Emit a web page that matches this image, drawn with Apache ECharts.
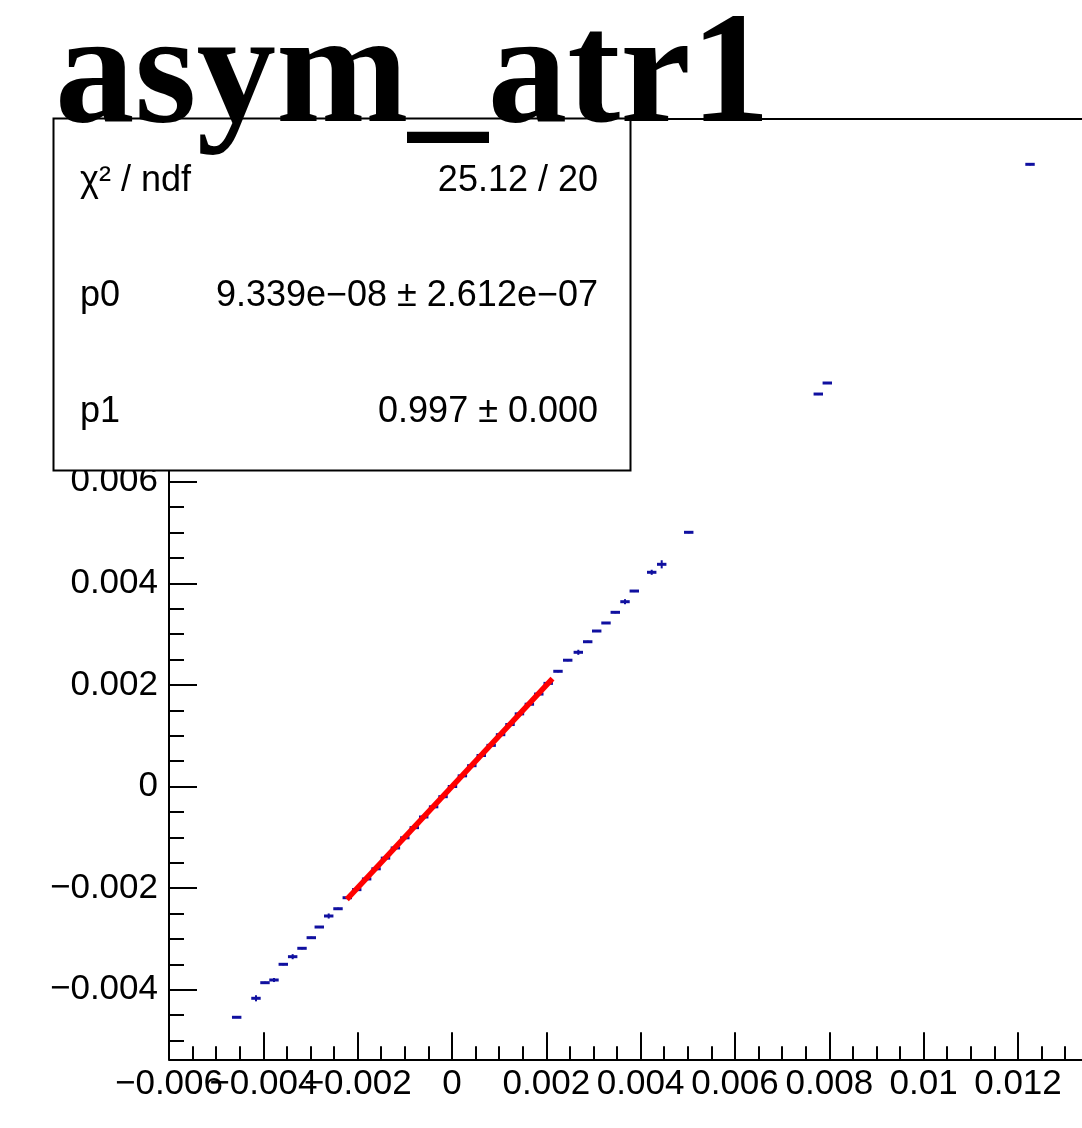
<!DOCTYPE html>
<html>
<head>
<meta charset="utf-8">
<script src="https://cdn.jsdelivr.net/npm/echarts@6/dist/echarts.min.js"></script>
<style>
html,body{margin:0;padding:0;background:#fff;}
#chart{width:1082px;height:1128px;}
</style>
</head>
<body>
<div id="chart"></div>
<script>
// ---- data ----
const titleText = 'asym_atr1';

// profile points: bin centre x, mean y, error on y
const binX = [
  -0.004565, -0.004156, -0.003965, -0.003774, -0.003577, -0.003378, -0.003180, -0.002983, -0.002814, -0.002614, -0.002417, -0.002220,
  -0.00202, -0.00181, -0.00161, -0.00141, -0.00120, -0.00100, -0.00080, -0.00060, -0.00039, -0.00019, 0.00001,
  0.00022, 0.00042, 0.00062, 0.00083, 0.00103, 0.00123, 0.00143, 0.00164, 0.00184, 0.00204,
  0.002247, 0.002453, 0.002678, 0.002877, 0.003068, 0.003265, 0.003462, 0.003668, 0.003865, 0.004234, 0.004446,
  0.005019, 0.007766, 0.007957, 0.012255
];
const profY = [
  -0.004543, -0.004169, -0.003862, -0.003809, -0.003500, -0.003350, -0.003185, -0.002976, -0.002766, -0.002549, -0.002406, -0.002189,
  -0.00203, -0.00182, -0.00162, -0.00141, -0.00121, -0.00101, -0.00081, -0.00060, -0.00040, -0.00020, 0.00000,
  0.00021, 0.00041, 0.00061, 0.00081, 0.00102, 0.00122, 0.00143, 0.00162, 0.00182, 0.00203,
  0.002268, 0.002486, 0.002642, 0.002850, 0.003061, 0.003219, 0.003429, 0.003638, 0.003848, 0.004217, 0.004374,
  0.005004, 0.007726, 0.007943, 0.012248
];
const profErr = [
  0.00001, 0.00006, 0.00002, 0.00004, 0.00002, 0.00005, 0.00002, 0.00002, 0.00002, 0.00005, 0.00002, 0.00002,
  0.00001, 0.00001, 0.00001, 0.00001, 0.00001, 0.00001, 0.00001, 0.00001, 0.00001, 0.00001, 0.00001,
  0.00001, 0.00001, 0.00001, 0.00001, 0.00001, 0.00001, 0.00001, 0.00001, 0.00001, 0.00001,
  0.00002, 0.00002, 0.00005, 0.00002, 0.00002, 0.00002, 0.00002, 0.00005, 0.00002, 0.00005, 0.00008,
  0.00002, 0.00002, 0.00002, 0.00002
];
const binHalfWidth = 0.0001;

// fitted straight line (pol1), drawn over the fit range
const fitX = [-0.00223, 0.00213];
const fitY = [-0.002223, 0.002124];

// stats box
const statNames  = ['χ² / ndf', 'p0', 'p1'];
const statValues = ['25.12 / 20', '9.339e−08 ± 2.612e−07', '0.997 ± 0.000'];

// axes (the picture is cropped on the right, inside the frame)
const xMin = -0.006, xMax = 0.013357;
const yMin = -0.00537, yMax = 0.013154;
const xMajorTicks = [-0.006, -0.004, -0.002, 0, 0.002, 0.004, 0.006, 0.008, 0.01, 0.012];
const xTickLabelsA = [-0.006, -0.002, 0.002, 0.006, 0.01];
const xTickLabelsB = [-0.004, 0, 0.004, 0.008, 0.012];
const yMajorTicks = [-0.004, -0.002, 0, 0.002, 0.004, 0.006, 0.008, 0.01, 0.012];
const yTickLabels = [-0.004, -0.002, 0, 0.002, 0.004, 0.006];
const minorStep = 0.0005;

function minorTicks(lo, hi, majors){
  const out = [];
  for (let i = Math.ceil(lo/minorStep - 1e-9); i*minorStep <= hi + 1e-12; i++){
    const v = +(i*minorStep).toFixed(6);
    if (!majors.some(m => Math.abs(m - v) < 1e-9)) out.push(v);
  }
  return out;
}
const xMinorTicks = minorTicks(xMin, xMax, xMajorTicks);
const yMinorTicks = minorTicks(yMin, yMax, yMajorTicks);

function fmt(v){
  const s = String(+(+v).toPrecision(6));
  return s.replace('-', '\u2212');
}

const LABEL_FONT = 'Liberation Sans';
const LABEL_SIZE = 35;
const BLUE = '#1010a0';

const chart = echarts.init(document.getElementById('chart'), null, {renderer:'canvas'});

const gridDef = {left:169, top:118.3, right:0, bottom:68.7, show:false, containLabel:false};

function majorAxis(dim, min, max, ticks, labels, margin, tickLen){
  return {
    type:'value', min, max, position: dim==='x' ? 'bottom' : 'left',
    axisLine:{show:true, onZero:false, lineStyle:{color:'#000', width:2}},
    axisTick:{show:true, inside:true, length:tickLen, customValues:ticks, lineStyle:{color:'#000', width:2}},
    axisLabel:{show:true, customValues:labels, formatter:fmt, color:'#000', fontFamily:LABEL_FONT, fontSize:LABEL_SIZE, margin,
               showMinLabel:true, showMaxLabel:true, hideOverlap:false},
    splitLine:{show:false}, minorTick:{show:false}
  };
}
function labelAxis(min, max, labels, margin){
  return {
    type:'value', min, max, position:'bottom',
    axisLine:{show:false, onZero:false},
    axisTick:{show:false},
    axisLabel:{show:true, customValues:labels, formatter:fmt, color:'#000', fontFamily:LABEL_FONT, fontSize:LABEL_SIZE, margin,
               showMinLabel:true, showMaxLabel:true, hideOverlap:false},
    splitLine:{show:false}
  };
}
function minorAxis(dim, min, max, ticks, tickLen){
  return {
    type:'value', min, max, position: dim==='x' ? 'bottom' : 'left',
    axisLine:{show:false, onZero:false},
    axisTick:{show:true, inside:true, length:tickLen, customValues:ticks, lineStyle:{color:'#000', width:2}},
    axisLabel:{show:false},
    splitLine:{show:false}
  };
}
function frameTop(min, max){
  return {
    type:'value', min, max, position:'top',
    axisLine:{show:true, onZero:false, lineStyle:{color:'#000', width:2}},
    axisTick:{show:false}, axisLabel:{show:false}, splitLine:{show:false}
  };
}

const profData = binX.map((x,i) => [x, profY[i], profErr[i]]);
const fitData = fitX.map((x,i) => [x, fitY[i]]);

const graphics = [
  {type:'rect', z:100, shape:{x:53.5, y:118.5, width:577, height:352}, style:{fill:'#fff', stroke:'#000', lineWidth:2}}
];
const rowY = [181, 296, 412];
statNames.forEach((n,i) => {
  graphics.push({type:'text', z:101, style:{text:n, x:80, y:rowY[i], align:'left', verticalAlign:'middle', font:'36px "Liberation Sans"', fill:'#000'}});
  graphics.push({type:'text', z:101, style:{text:statValues[i], x:598, y:rowY[i], align:'right', verticalAlign:'middle', font:'36px "Liberation Sans"', fill:'#000'}});
});
graphics.push({type:'text', z:110, style:{text:titleText, x:55, y:80, align:'left', verticalAlign:'middle', font:'bold 159px "Liberation Serif"', fill:'#000'}});

chart.setOption({
  animation:false,
  backgroundColor:'#fff',
  grid: gridDef,
  xAxis:[
    majorAxis('x', xMin, xMax, xMajorTicks, xTickLabelsA, 8, 27),
    minorAxis('x', xMin, xMax, xMinorTicks, 13),
    frameTop(xMin, xMax),
    labelAxis(xMin, xMax, xTickLabelsB, 8)
  ],
  yAxis:[
    majorAxis('y', yMin, yMax, yMajorTicks, yTickLabels, 11, 28),
    minorAxis('y', yMin, yMax, yMinorTicks, 15)
  ],
  series:[
    {
      type:'custom', xAxisIndex:0, yAxisIndex:0, z:2,
      data: profData,
      renderItem(params, api){
        const x = api.value(0), y = api.value(1), e = api.value(2);
        const a = api.coord([x - binHalfWidth, y]);
        const b = api.coord([x + binHalfWidth, y]);
        const children = [{type:'line', shape:{x1:a[0], y1:a[1], x2:b[0], y2:b[1]}, style:{stroke:BLUE, lineWidth:3}}];
        if (e > 0){
          const c = api.coord([x, y - e]);
          const d = api.coord([x, y + e]);
          children.push({type:'line', shape:{x1:c[0], y1:c[1], x2:d[0], y2:d[1]}, style:{stroke:BLUE, lineWidth:2}});
        }
        return {type:'group', children};
      }
    },
    {
      type:'line', xAxisIndex:0, yAxisIndex:0, z:3,
      data: fitData, symbol:'none', silent:true,
      lineStyle:{color:'#ff0000', width:5.5}
    }
  ],
  graphic: graphics
});
</script>
</body>
</html>
